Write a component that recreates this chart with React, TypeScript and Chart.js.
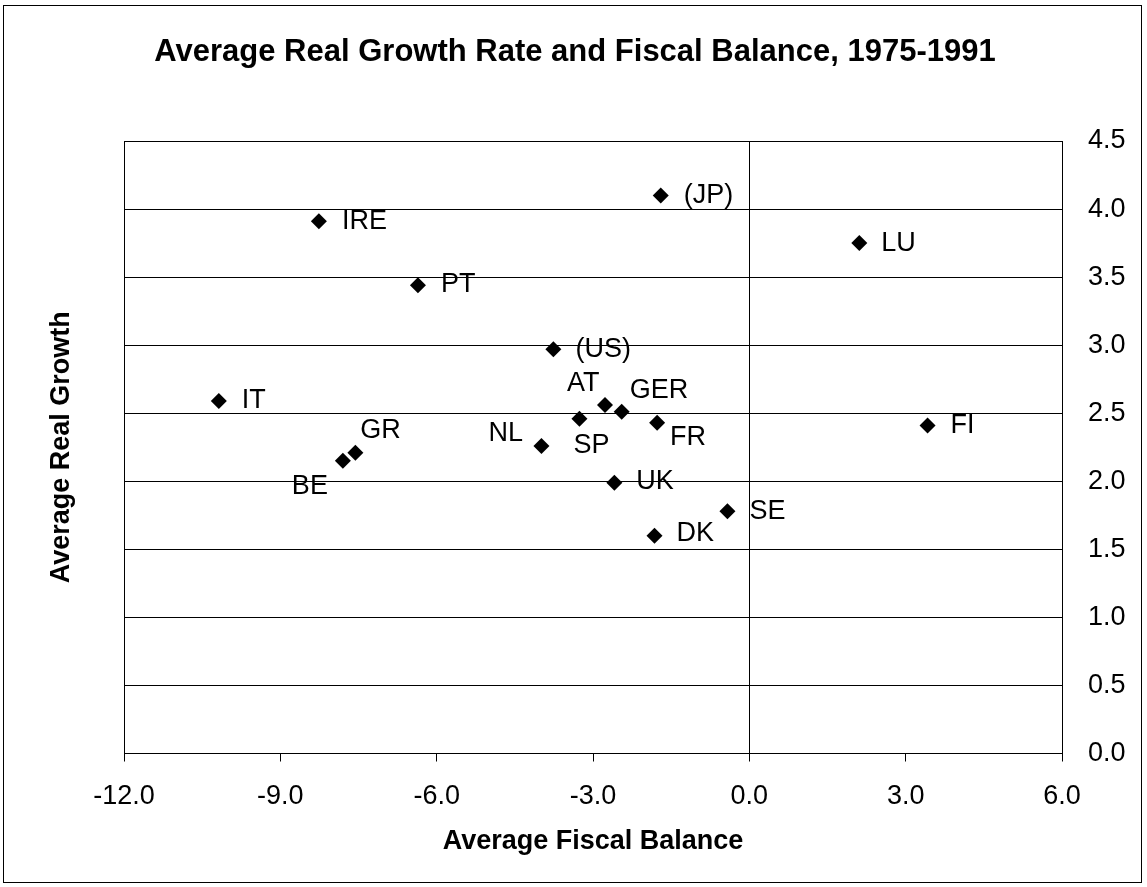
import React, { useEffect, useRef } from "react";
import { Chart, registerables } from "chart.js";

Chart.register(...registerables);

const countries = ["IRE", "(JP)", "LU", "PT", "(US)", "IT", "FI", "GR", "BE", "AT", "GER", "SP", "NL", "FR", "UK", "SE", "DK"];
const fiscalBalance = [-8.26, -1.70, 2.11, -6.36, -3.76, -10.18, 3.42, -7.56, -7.80, -2.77, -2.45, -3.26, -3.99, -1.77, -2.59, -0.42, -1.82];
const realGrowth = [3.91, 4.10, 3.75, 3.44, 2.97, 2.59, 2.41, 2.21, 2.15, 2.56, 2.51, 2.46, 2.26, 2.43, 1.99, 1.78, 1.60];
// label placement relative to marker (left edge x, middle y)
const labelOffsets: [number, number][] = [
  [23, 0], [23, 0], [22, 0], [23, -1], [22, 0], [23, 0], [23, 0], [5, -22], [-51, 26],
  [-38, -22], [8, -21], [-6, 27], [-53, -12], [13, 15], [22, -1], [22, 0], [22, -2],
];

const chartTitle = "Average Real Growth Rate and Fiscal Balance, 1975-1991";
const xTitle = "Average Fiscal Balance";
const yTitle = "Average Real Growth";
const xMin = -12, xMax = 6, xStep = 3;
const yMin = 0, yMax = 4.5, yStep = 0.5;

const FONT = "'Liberation Sans', Arial, sans-serif";

export default function App() {
  const ref = useRef<HTMLCanvasElement | null>(null);
  useEffect(() => {
    const canvas = ref.current!;
    const decor = {
      id: "decor",
      beforeDraw(chart: any) {
        const c = chart.ctx;
        c.save();
        c.fillStyle = "#fff";
        c.fillRect(0, 0, chart.width, chart.height);
        c.restore();
      },
      afterDraw(chart: any) {
        const c = chart.ctx;
        const area = chart.chartArea;
        c.save();
        c.fillStyle = "#000";
        c.textAlign = "center";
        c.textBaseline = "middle";
        c.font = `bold 31px ${FONT}`;
        c.fillText(chartTitle, 575, 52);
        c.font = `bold 27px ${FONT}`;
        c.fillText(xTitle, (area.left + area.right) / 2, 842);
        c.save();
        c.translate(62, (area.top + area.bottom) / 2);
        c.rotate(-Math.PI / 2);
        c.fillText(yTitle, 0, 0);
        c.restore();
        // data labels
        const meta = chart.getDatasetMeta(0);
        c.font = `27px ${FONT}`;
        c.textAlign = "left";
        meta.data.forEach((el: any, i: number) => {
          const [dx, dy] = labelOffsets[i];
          c.fillText(countries[i], el.x + dx, el.y + dy);
        });
        // outer frame
        c.strokeStyle = "#000";
        c.lineWidth = 1;
        c.strokeRect(3.5, 5.5, 1138, 877);
        c.restore();
      },
    };
    const chart = new Chart(canvas, {
      type: "scatter",
      data: {
        datasets: [
          {
            data: fiscalBalance.map((x, i) => ({ x, y: realGrowth[i] })),
            pointStyle: "rectRot",
            pointRadius: 8,
            pointHoverRadius: 8,
            backgroundColor: "#000",
            borderColor: "#000",
            borderWidth: 0,
          },
        ],
      },
      options: {
        responsive: false,
        animation: false,
        devicePixelRatio: 1,
        layout: { padding: { left: 124, top: 141, right: 0, bottom: 0 } },
        plugins: { legend: { display: false }, tooltip: { enabled: false }, title: { display: false } },
        scales: {
          x: {
            type: "linear",
            position: "bottom",
            min: xMin,
            max: xMax,
            afterFit: (s: any) => { s.height = 887 - 753.5; },
            ticks: {
              stepSize: xStep,
              color: "#000",
              padding: 19,
              maxRotation: 0,
              font: { family: FONT, size: 27 },
              callback: (v: any) => Number(v).toFixed(1),
            },
            grid: {
              color: (ctx: any) => (ctx.tick && (ctx.tick.value === 0 || ctx.tick.value === xMin || ctx.tick.value === xMax) ? "#000" : "rgba(0,0,0,0)"),
              tickColor: "#000",
              lineWidth: 1,
              drawTicks: true,
              tickLength: 8,
            },
            border: { display: true, color: "#000", width: 1 },
          },
          y: {
            type: "linear",
            position: "right",
            min: yMin,
            max: yMax,
            afterFit: (s: any) => { s.width = 1147 - 1062; },
            ticks: {
              stepSize: yStep,
              color: "#000",
              padding: 26,
              font: { family: FONT, size: 27 },
              callback: (v: any) => Number(v).toFixed(1),
            },
            grid: { color: "#000", lineWidth: 1, drawTicks: false },
            border: { display: true, color: "#000", width: 1 },
          },
        },
      },
      plugins: [decor],
    });
    return () => chart.destroy();
  }, []);
  return (
    <div style={{ position: "absolute", left: 0, top: 0, width: 1147, height: 887 }}>
      <canvas ref={ref} width={1147} height={887} style={{ display: "block" }} />
    </div>
  );
}
